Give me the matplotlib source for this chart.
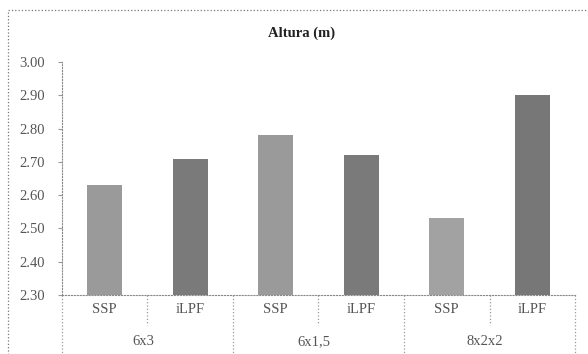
import matplotlib.pyplot as plt
from matplotlib.patches import Rectangle
import numpy as np

plt.rcParams['font.family'] = ['Liberation Serif', 'DejaVu Serif']

groups = ['6x3', '6x1,5', '8x2x2']
methods = ['SSP', 'iLPF', 'SSP', 'iLPF', 'SSP', 'iLPF']
altura = [2.63, 2.71, 2.78, 2.72, 2.53, 2.90]
colors = ['#9a9a9a', '#7a7a7a', '#9a9a9a', '#7a7a7a', '#a2a2a2', '#777777']
yticks = [2.30, 2.40, 2.50, 2.60, 2.70, 2.80, 2.90, 3.00]

fig = plt.figure(figsize=(5.88, 3.54), dpi=100)
ax = fig.add_axes([0.1054, 0.1667, 0.8725, 0.658])

x = np.arange(len(altura))
ax.bar(x, np.array(altura) - 2.30, bottom=2.30, width=0.41, color=colors,
       edgecolor='none', zorder=2)

ax.set_xlim(-0.5, 5.5)
ax.set_ylim(2.30, 3.00)
ax.set_yticks(yticks)
ax.set_yticklabels([f'{v:.2f}' for v in yticks], fontsize=10.5, color='#555555')
ax.tick_params(axis='y', length=3, color='#999999', pad=9)
ax.set_xticks([])

for s in ['top', 'right']:
    ax.spines[s].set_visible(False)
ax.spines['left'].set_linestyle(':')
ax.spines['left'].set_color('#888888')
ax.spines['bottom'].set_linestyle(':')
ax.spines['bottom'].set_color('#888888')

tr = ax.get_xaxis_transform()
for i, m in enumerate(methods):
    ax.text(i, -0.064, m, transform=tr, ha='center', va='center',
            fontsize=10.5, color='#555555')
for i, g in enumerate(groups):
    ax.text(2 * i + 0.45, -0.2, g, transform=tr, ha='center', va='center',
            fontsize=10.5, color='#555555')
for xs in [0.5, 2.5, 4.5]:
    ax.plot([xs, xs], [0, -0.13], transform=tr, ls=':', color='#999999',
            lw=0.9, clip_on=False)
for xs in [-0.5, 1.5, 3.5, 5.5]:
    ax.plot([xs, xs], [0, -0.26], transform=tr, ls=':', color='#999999',
            lw=0.9, clip_on=False)

fig.text(0.513, 0.905, 'Altura (m)', ha='center', va='center',
         fontsize=10.5, fontweight='bold', color='#222222')

fig.patches.append(Rectangle((0.014, -0.05), 1.05, 1.022, transform=fig.transFigure,
                             fill=False, ls=':', lw=0.9, edgecolor='#777777'))

fig.savefig('out.png', dpi=100)
